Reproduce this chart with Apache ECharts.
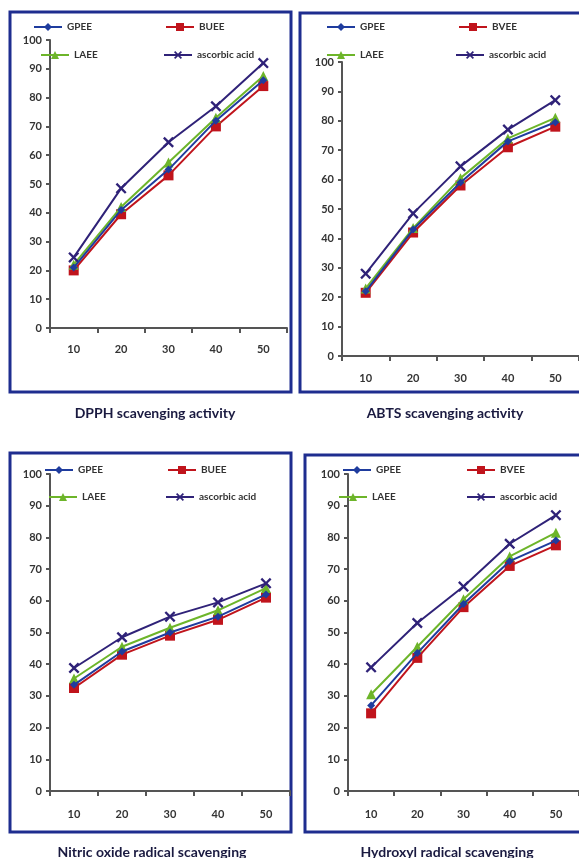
<!DOCTYPE html>
<html><head><meta charset="utf-8">
<script src="https://cdn.jsdelivr.net/npm/echarts@6/dist/echarts.min.js"></script>
<style>html,body{margin:0;padding:0;background:#fff}#c{width:579px;height:858px}</style>
</head><body><div id="c"></div>
<script>
const categories = ['10','20','30','40','50'];
const yMin = 0, yMax = 100, yStep = 10;

const dpphGPEE     = [21, 41, 55, 72, 86];
const dpphBUEE     = [20, 39.5, 53, 70, 84];
const dpphLAEE     = [22, 42, 57.5, 73, 87.5];
const dpphAscorbic = [24.5, 48.5, 64.5, 77, 92];

const abtsGPEE     = [22, 43, 59, 73, 79.5];
const abtsBVEE     = [21.5, 42, 58, 71, 78];
const abtsLAEE     = [23, 43.5, 60.5, 74, 81];
const abtsAscorbic = [28, 48.5, 64.5, 77, 87];

const nitricGPEE     = [33.5, 44, 50, 55, 62];
const nitricBUEE     = [32.5, 43, 49, 54, 61];
const nitricLAEE     = [35.5, 45.5, 51.5, 57, 64];
const nitricAscorbic = [38.8, 48.5, 55, 59.5, 65.5];

const hydroxylGPEE     = [27, 43.5, 59, 72.5, 79];
const hydroxylBVEE     = [24.5, 42, 58, 71, 77.5];
const hydroxylLAEE     = [30.5, 45.5, 60.5, 74, 81.5];
const hydroxylAscorbic = [39, 53, 64.5, 78, 87];

const panelTitles = ['DPPH scavenging activity','ABTS scavenging activity','Nitric oxide radical scavenging','Hydroxyl radical scavenging'];

const panels = [
  {names:['GPEE','BUEE','LAEE','ascorbic acid'], data:[dpphGPEE,dpphBUEE,dpphLAEE,dpphAscorbic]},
  {names:['GPEE','BVEE','LAEE','ascorbic acid'], data:[abtsGPEE,abtsBVEE,abtsLAEE,abtsAscorbic]},
  {names:['GPEE','BUEE','LAEE','ascorbic acid'], data:[nitricGPEE,nitricBUEE,nitricLAEE,nitricAscorbic]},
  {names:['GPEE','BVEE','LAEE','ascorbic acid'], data:[hydroxylGPEE,hydroxylBVEE,hydroxylLAEE,hydroxylAscorbic]}
];

// layout (pixels)
const grids = [
  {left:50, top:40, width:237, height:288},
  {left:342, top:62, width:238, height:294},
  {left:50, top:474, width:240, height:317},
  {left:348, top:474, width:232, height:317}
];
const xLabelMargin = [16, 15, 16, 16];
const frames = [
  {x:10, y:12, w:281, h:380},
  {x:300, y:13, w:285, h:379},
  {x:10, y:453, w:281, h:379},
  {x:305, y:455, w:280, h:377}
];
const titlePos = [{x:150,y:401},{x:440,y:401},{x:147,y:840},{x:442,y:840}];
const legendPos = [
  [[33,22],[165,22],[40,50],[163,50]],
  [[326,22],[458,22],[326,50],[455,50]],
  [[44,465],[167,465],[48,492],[165,492]],
  [[342,465],[466,465],[338,492],[466,492]]
];

const colors = ['#1f3c9e','#c0141c','#6db52a','#2f2278'];
const xPath = 'path://M0,1.5L1.5,0L5,3.5L8.5,0L10,1.5L6.5,5L10,8.5L8.5,10L5,6.5L1.5,10L0,8.5L3.5,5Z';
const symbols = ['diamond','rect','triangle',xPath];
const symSizes = [8,10,10,11];

const FONT = 'Lato';
const option = {
  animation:false,
  backgroundColor:'#fff',
  grid:[], xAxis:[], yAxis:[], series:[], legend:[], title:[],
  graphic:[]
};
panels.forEach((p,i)=>{
  const g = grids[i];
  option.grid.push({left:g.left, top:g.top, width:g.width, height:g.height, containLabel:false});
  option.xAxis.push({
    type:'category', gridIndex:i, data:categories, boundaryGap:true,
    axisLine:{lineStyle:{color:'#555',width:2}},
    axisTick:{show:true, alignWithLabel:false, length:5, lineStyle:{color:'#555',width:2}},
    axisLabel:{color:'#333', fontFamily:FONT, fontWeight:'bold', fontSize:11, margin:xLabelMargin[i]+(i>=1?2:0)},
    splitLine:{show:false}
  });
  option.yAxis.push({
    type:'value', gridIndex:i, min:yMin, max:yMax, interval:yStep,
    axisLine:{show:true, lineStyle:{color:'#555',width:2}},
    axisTick:{show:true, length:4, lineStyle:{color:'#555',width:2}},
    axisLabel:{color:'#333', fontFamily:FONT, fontWeight:'bold', fontSize:11, margin:8},
    splitLine:{show:false}
  });
  p.names.forEach((n,k)=>{
    option.series.push({
      type:'line', name:n, xAxisIndex:i, yAxisIndex:i, data:p.data[k],
      symbol:symbols[k], symbolSize:symSizes[k], showSymbol:true,
      lineStyle:{color:colors[k], width:2},
      itemStyle:{color:colors[k]},
      z: k===0?5:(k===1?3:4)
    });
    option.legend.push({
      data:[n], left:legendPos[i][k][0], top:legendPos[i][k][1],
      itemWidth:28, itemHeight:10, itemGap:4, selectedMode:false,
      textStyle:{color:'#333', fontFamily:FONT, fontWeight:'bold', fontSize:10},
      padding:0
    });
  });
  option.title.push({
    text:panelTitles[i], left:titlePos[i].x, top:titlePos[i].y, textAlign:'center',
    textStyle:{color:'#1a1a40', fontFamily:FONT, fontWeight:'bold', fontSize:14}
  });
  const f = frames[i];
  option.graphic.push({
    type:'rect', shape:{x:f.x, y:f.y, width:f.w, height:f.h},
    style:{fill:'none', stroke:'#1e2d8f', lineWidth:3}, z:-1, silent:true
  });
});
const chart = echarts.init(document.getElementById('c'), null, {renderer:'canvas'});
chart.setOption(option);
</script>
</body></html>
